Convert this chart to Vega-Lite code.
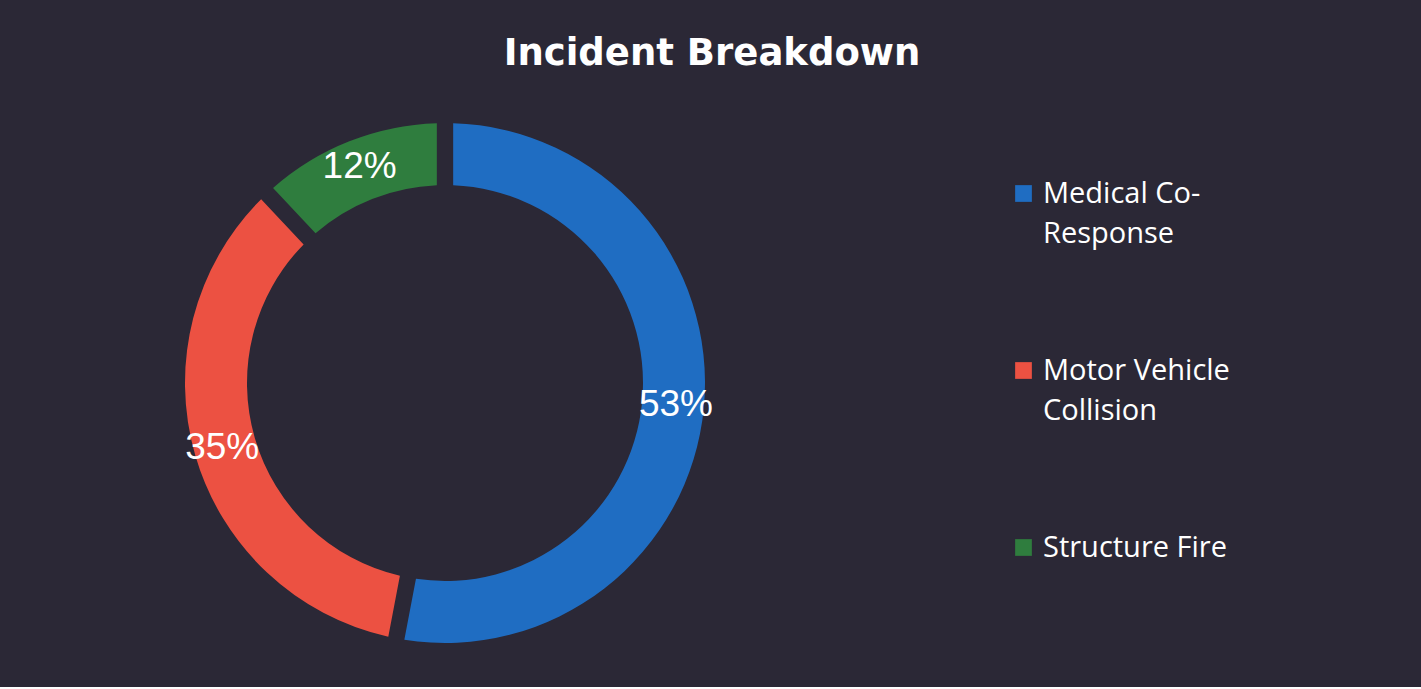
{
  "$schema": "https://vega.github.io/schema/vega-lite/v6.json",
  "width": 876,
  "height": 608,
  "padding": {"left": 7, "top": 35, "right": 250, "bottom": 0},
  "background": "#2b2836",
  "title": {
    "text": "Incident Breakdown",
    "color": "#ffffff",
    "font": "DejaVu Sans",
    "fontSize": 37,
    "fontWeight": "bold",
    "anchor": "middle",
    "frame": "group",
    "dx": 267,
    "offset": 6
  },
  "data": {
    "values": [
      {"category": "Medical Co-Response", "share": 0.53},
      {"category": "Motor Vehicle Collision", "share": 0.35},
      {"category": "Structure Fire", "share": 0.12}
    ]
  },
  "layer": [
    {
      "mark": {"type": "arc", "innerRadius": 198, "outerRadius": 260, "padAngle": 0.05},
      "encoding": {
        "theta": {"field": "share", "type": "quantitative", "stack": true},
        "order": {"field": "category", "type": "nominal", "sort": "ascending"},
        "color": {
          "field": "category",
          "type": "nominal",
          "scale": {
            "domain": ["Medical Co-Response", "Motor Vehicle Collision", "Structure Fire"],
            "range": ["#1f6dc2", "#ec5142", "#2f7d3e"]
          },
          "legend": {
            "title": null,
            "orient": "none",
            "legendX": 1002,
            "legendY": 100,
            "symbolType": "square",
            "symbolSize": 280,
            "symbolStrokeWidth": 0,
            "symbolOpacity": 1,
            "labelFont": "Open Sans",
            "labelFontSize": 29,
            "labelColor": "#ffffff",
            "labelLimit": 400,
            "labelOffset": 5,
            "labelBaseline": "middle",
            "rowPadding": 107,
            "padding": 0,
            "labelExpr": "datum.label == 'Medical Co-Response' ? ['Medical Co-', 'Response'] : datum.label == 'Motor Vehicle Collision' ? ['Motor Vehicle', 'Collision'] : [datum.label, '']",
            "encode": {
              "labels": {"update": {"lineHeight": {"value": 40}}}
            }
          }
        }
      }
    },
    {
      "mark": {"type": "text", "radius": 232, "font": "Liberation Sans", "fontSize": 37, "color": "#ffffff"},
      "encoding": {
        "theta": {"field": "share", "type": "quantitative", "stack": true},
        "order": {"field": "category", "type": "nominal", "sort": "ascending"},
        "detail": {"field": "category", "type": "nominal"},
        "text": {"field": "share", "type": "quantitative", "format": ".0%"}
      }
    }
  ],
  "config": {
    "view": {"stroke": null}
  }
}
